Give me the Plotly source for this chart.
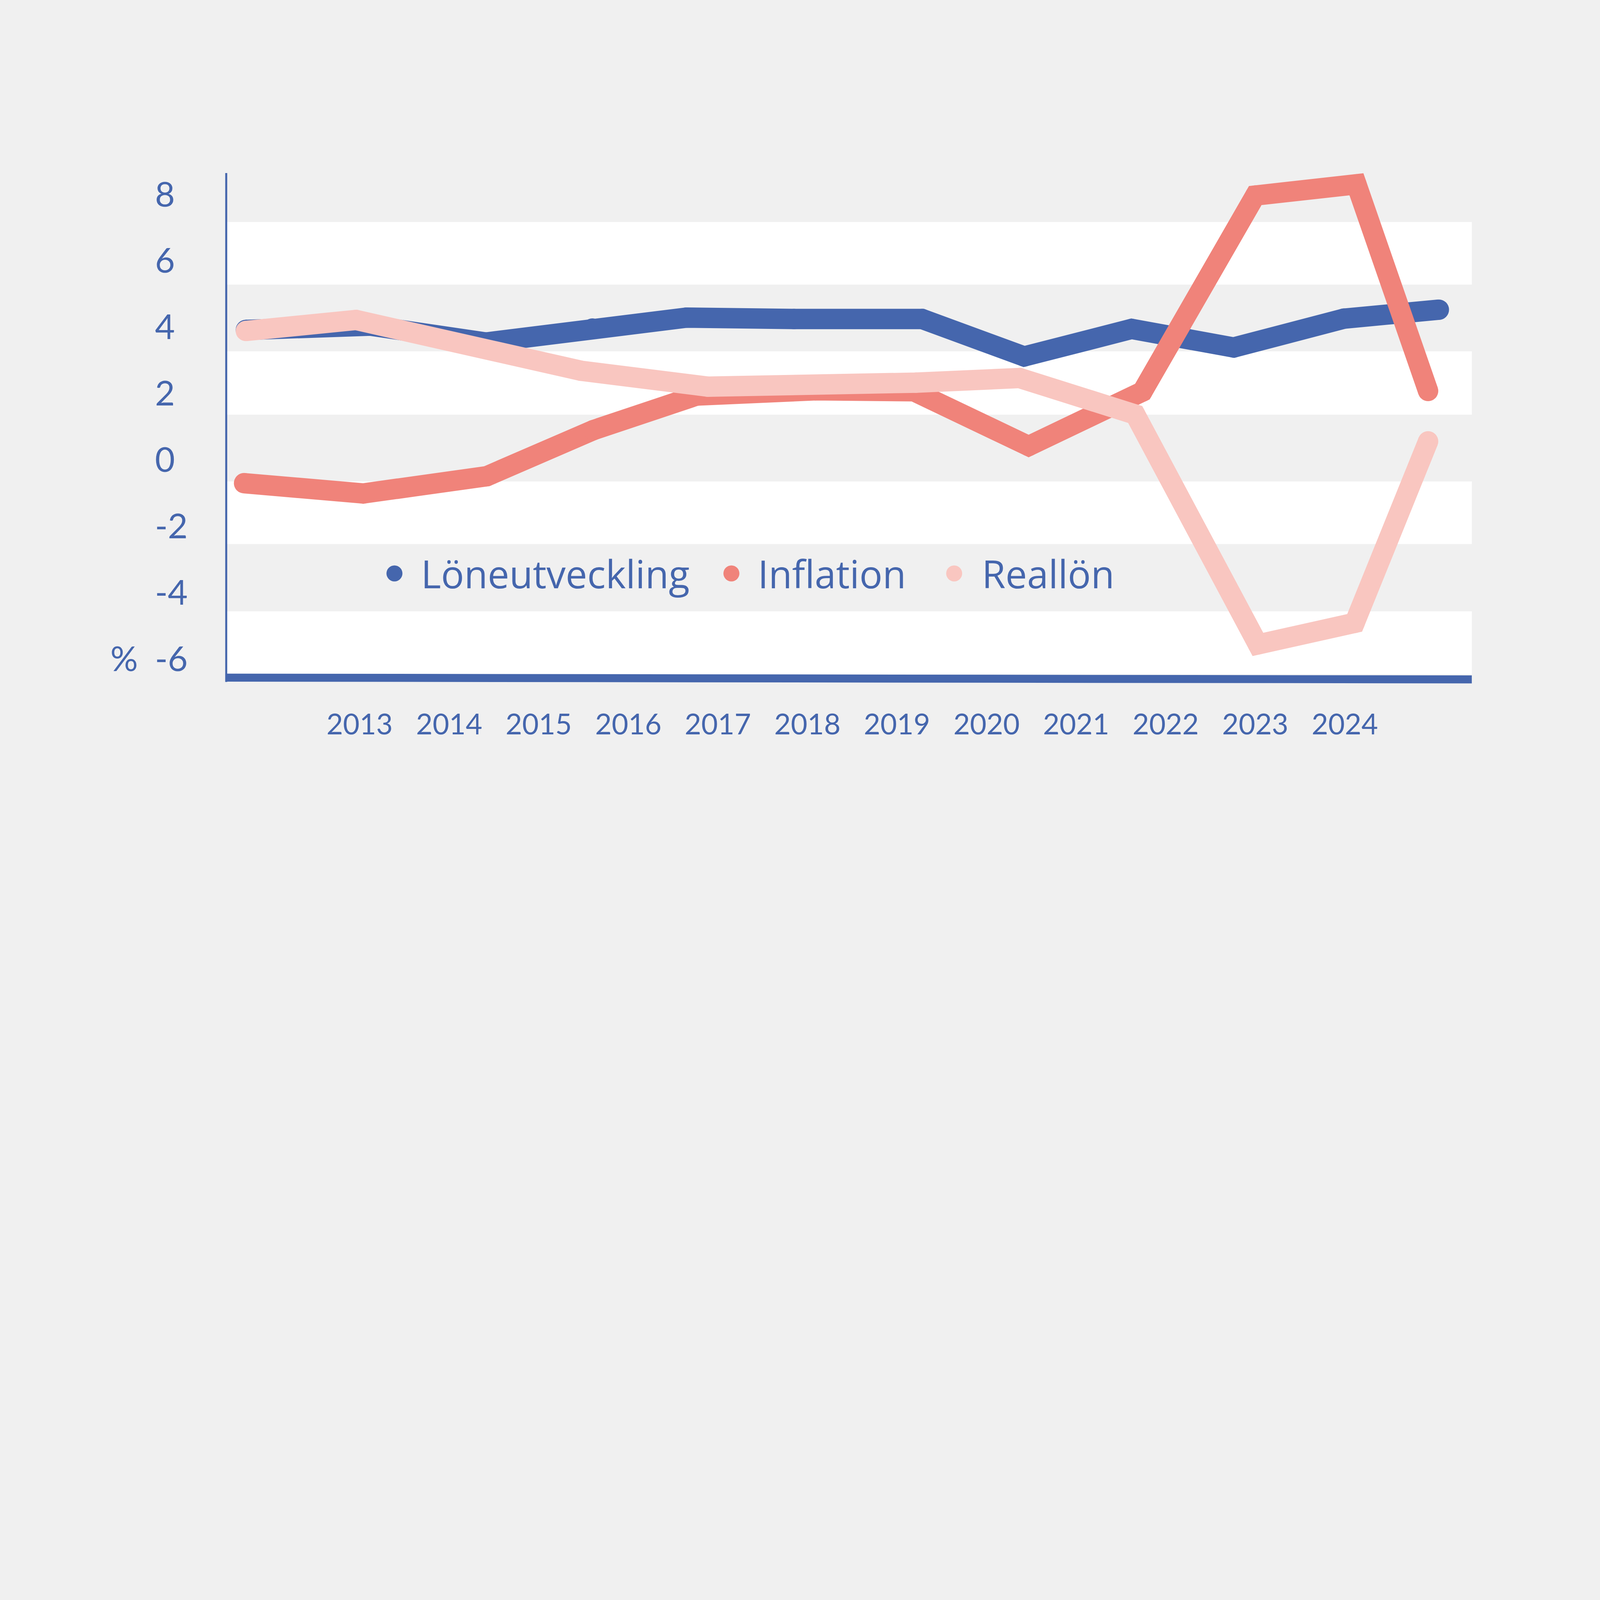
import plotly.graph_objects as go

# ---- data ----
years = [2013, 2014, 2015, 2016, 2017, 2018, 2019, 2020, 2021, 2022, 2023, 2024]
y_ticks = [8, 6, 4, 2, 0, -2, -4, -6]

lone_x = [2011.73, 2013.12, 2014.41, 2015.60, 2016.65, 2017.85, 2019.28, 2020.42, 2021.62, 2022.76, 2023.99, 2025.05]
lone_y = [3.88, 4.01, 3.50, 3.92, 4.25, 4.21, 4.21, 3.08, 3.91, 3.35, 4.22, 4.49]

infl_x = [2011.71, 2013.04, 2014.42, 2015.61, 2016.76, 2018.09, 2019.19, 2020.47, 2021.74, 2023.00, 2024.13, 2024.93]
infl_y = [-0.74, -1.05, -0.53, 0.86, 1.90, 2.06, 2.03, 0.38, 2.02, 7.93, 8.27, 2.04]

real_x = [2011.73, 2012.96, 2015.47, 2016.89, 2019.21, 2020.37, 2021.66, 2023.03, 2024.11, 2024.93]
real_y = [3.85, 4.18, 2.65, 2.17, 2.29, 2.43, 1.33, -5.60, -4.95, 0.52]

series_names = ["Löneutveckling", "Inflation", "Reallön"]

# white background bands (value ranges)
bands = [(5.247, 7.135), (1.327, 3.233), (-2.575, -0.688), (-6.502, -4.602)]

# ---- style ----
BG = "#f0f0f0"
BLUE = "#4566ad"
RED = "#f0837a"
PINK = "#f9c6c0"
FONT = "Lato"
LEG_FONT = "Open Sans"
LW = 102

W, H = 8000, 4500
L, R, T, B = 1133, 641, 865, 1112

fig = go.Figure()
for xs, ys, col, name in [(lone_x, lone_y, BLUE, series_names[0]),
                          (infl_x, infl_y, RED, series_names[1]),
                          (real_x, real_y, PINK, series_names[2])]:
    fig.add_trace(go.Scatter(
        x=xs, y=ys, mode="lines+markers", name=name,
        line=dict(color=col, width=LW),
        marker=dict(color=col, size=LW, line=dict(width=0)),
        showlegend=False, hoverinfo="skip"))

shapes = []
for y0, y1 in bands:
    shapes.append(dict(type="rect", xref="paper", yref="y", x0=0.0005, x1=1,
                       y0=y0, y1=y1, fillcolor="white", line=dict(width=0),
                       layer="below"))
# axis lines
shapes.append(dict(type="line", xref="paper", yref="paper", x0=-0.0003, x1=-0.0003,
                   y0=-0.0085, y1=1, line=dict(color=BLUE, width=10)))
shapes.append(dict(type="line", xref="paper", yref="paper", x0=-0.001, x1=1,
                   y0=0.0, y1=-0.0036, line=dict(color=BLUE, width=40)))

annotations = []
for v in y_ticks:
    annotations.append(dict(x=-0.0578, xref="paper", y=v, yref="y", text=str(v),
                            xanchor="left", yanchor="middle", showarrow=False,
                            font=dict(family=FONT, size=172, color=BLUE)))
annotations.append(dict(x=-0.0936, xref="paper", y=-6, yref="y", text="%",
                        xanchor="left", yanchor="middle", showarrow=False,
                        font=dict(family=FONT, size=172, color=BLUE)))

# custom legend
leg_y = -3.46
dot_x = [0.1348, 0.4054, 0.5843]
txt_x = [0.1558, 0.4263, 0.6062]
for dx, tx, col, name in zip(dot_x, txt_x, [BLUE, RED, PINK], series_names):
    shapes.append(dict(type="circle", xref="paper", yref="y", xsizemode="pixel",
                       ysizemode="pixel", xanchor=dx, yanchor=leg_y,
                       x0=-40, x1=40, y0=-40, y1=40, fillcolor=col,
                       line=dict(width=0)))
    annotations.append(dict(x=tx, xref="paper", y=leg_y, yref="y", text=name,
                            xanchor="left", yanchor="middle", showarrow=False,
                            font=dict(family=LEG_FONT, size=192, color=BLUE)))

fig.update_layout(
    width=W, height=H,
    margin=dict(l=L, r=R, t=T, b=B, pad=0),
    paper_bgcolor=BG, plot_bgcolor=BG,
    shapes=shapes, annotations=annotations,
    xaxis=dict(range=[2011.515, 2025.418], tickvals=years,
               ticktext=[str(y) for y in years], showgrid=False, zeroline=False,
               showline=False, ticks="", ticklabelstandoff=140,
               tickfont=dict(family=FONT, size=143, color=BLUE)),
    yaxis=dict(range=[-6.60, 8.61], showgrid=False, zeroline=False,
               showline=False, showticklabels=False, ticks=""),
    showlegend=False,
)

# fit the 8000x4500 figure into the window if the window is smaller
fit = """
document.body.style.margin = '0';
document.body.style.background = '%s';
var gd = document.getElementById('{plot_id}');
var s = Math.min(window.innerWidth / %d, window.innerHeight / %d);
if (s < 1) {
  gd.style.transformOrigin = '0 0';
  gd.style.transform = 'scale(' + s + ')';
  document.documentElement.style.overflow = 'hidden';
}
""" % (BG, W, H)
fig.write_html("out.html", post_script=fit, config={"displayModeBar": False})
